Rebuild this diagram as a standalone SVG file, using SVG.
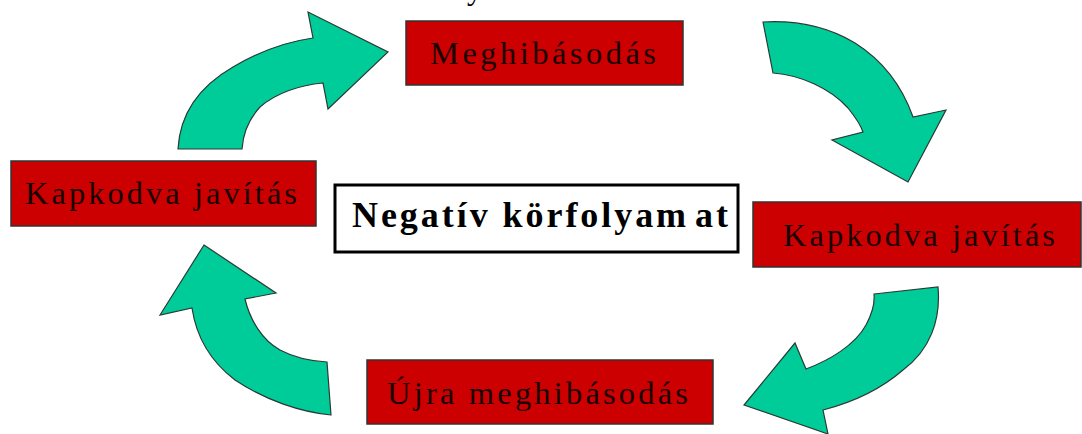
<svg xmlns="http://www.w3.org/2000/svg" width="1082" height="434" viewBox="0 0 1082 434">
  <style>
    .step rect { fill: #CC0000; stroke: #333333; stroke-width: 1.5; }
    .step text { font-family: "Liberation Serif", "Times New Roman", serif; font-size: 32.5px; fill: #1a0000; }
    .title rect { fill: #FFFFFF; stroke: #000000; stroke-width: 3; }
    .title text { font-family: "Liberation Serif", "Times New Roman", serif; font-size: 36px; font-weight: bold; fill: #000000; }
    .arrow { fill: #00CC99; stroke: #2a3a33; stroke-width: 1.2; stroke-linejoin: miter; }
    .stray { font-family: "Liberation Serif", "Times New Roman", serif; font-size: 31px; fill: #000000; }
  </style>
  <rect width="1082" height="434" fill="#FFFFFF"/>

  <!-- descender of a line set above the frame -->
  <text class="stray" x="467" y="-1">y</text>

  <!-- curved arrows of the cycle -->
  <g id="connectors">
    <path class="arrow" d="M178,149 C180,112 200,86 233,67 C260,51 285,42 313,38 L308,12 L388,52 L328,109 L323,83 C300,85 276,93 260,107 C249,119 243,134 242,149 Z"/>
    <path class="arrow" d="M763,22 L773,73 C800,75 830,88 848,108 C856,118 861,126 863,132 L832,140 L908,182 L946,110 L913,117 C902,86 882,60 855,43 C830,28 800,20 763,22 Z"/>
    <path class="arrow" d="M874,294 L938,287 C941,320 930,350 903,370 C880,390 850,403 823,410 L828,434 L744,405 L795,343 L806,369 C830,360 855,345 866,325 C872,314 875,304 874,294 Z"/>
    <path class="arrow" d="M204,245 L276,293 L245,299 C250,320 262,340 280,350 C295,358 310,361 327,362 L331,415 C300,412 265,400 235,380 C210,361 196,335 192,308 L160,315 Z"/>
  </g>

  <g id="node-meghibasodas" class="step">
    <rect x="406" y="21" width="277" height="64"/>
    <text x="430" y="64" textLength="226" lengthAdjust="spacing">Meghibásodás</text>
  </g>

  <g id="node-kapkodva-bal" class="step">
    <rect x="11" y="161" width="305" height="65"/>
    <text x="25" y="204" textLength="272" lengthAdjust="spacing">Kapkodva javítás</text>
  </g>

  <g id="node-cim" class="title">
    <rect x="335" y="185" width="403" height="67"/>
    <text x="352" y="227" textLength="376" lengthAdjust="spacing">Negatív körfolyam<tspan dx="6">at</tspan></text>
  </g>

  <g id="node-kapkodva-jobb" class="step">
    <rect x="753" y="202" width="328" height="65"/>
    <text x="783" y="246" textLength="272" lengthAdjust="spacing">Kapkodva javítás</text>
  </g>

  <g id="node-ujra" class="step">
    <rect x="367" y="360" width="346" height="64"/>
    <text x="387" y="404" textLength="301" lengthAdjust="spacing">Újra meghibásodás</text>
  </g>
</svg>
